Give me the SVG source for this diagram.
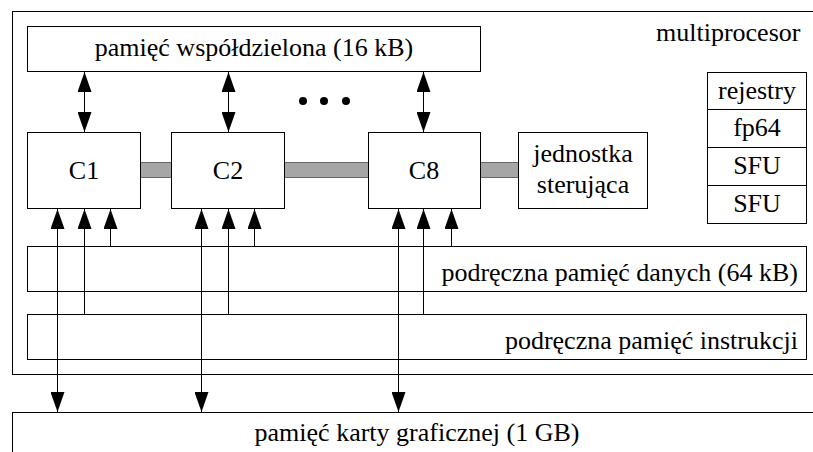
<svg xmlns="http://www.w3.org/2000/svg" width="813" height="452" viewBox="0 0 813 452">
<style>
.box{fill:#fff;stroke:#000;stroke-width:1}
.bar{fill:#a6a6a6;stroke:#666;stroke-width:1}
text{font-family:'Liberation Serif','Times New Roman',serif;font-size:26px;fill:#000}
.c{text-anchor:middle}
.r{text-anchor:end}
.ln{stroke:#000;stroke-width:1;fill:none}
</style>
<defs>
<marker id="ah" markerUnits="userSpaceOnUse" viewBox="0 0 20 14" markerWidth="20" markerHeight="14" refX="20" refY="7" orient="auto-start-reverse">
<path d="M0,0 L20,7 L0,14 Z" fill="#000"/>
</marker>
</defs>
<g id="multiprocesor">
<rect class="box" x="12.5" y="11.5" width="820" height="363"/>
<text x="656" y="41">multiprocesor</text>
</g>
<g id="graphics-memory">
<rect class="box" x="12.5" y="412.5" width="810" height="60"/>
<text class="c" x="417" y="441">pamięć karty graficznej (1 GB)</text>
</g>
<g id="shared-memory">
<rect class="box" x="27.5" y="26.5" width="453" height="45"/>
<text class="c" x="254" y="56">pamięć współdzielona (16 kB)</text>
</g>
<g id="bars">
<rect class="bar" x="140.5" y="162.5" width="31" height="15"/>
<rect class="bar" x="284.5" y="162.5" width="84" height="15"/>
<rect class="bar" x="480.5" y="162.5" width="38" height="15"/>
</g>
<g id="c1">
<rect class="box" x="27.5" y="132.5" width="113" height="76"/>
<text class="c" x="84" y="179">C1</text>
</g>
<g id="c2">
<rect class="box" x="171.5" y="132.5" width="113" height="76"/>
<text class="c" x="228" y="179">C2</text>
</g>
<g id="c8">
<rect class="box" x="368.5" y="132.5" width="112" height="76"/>
<text class="c" x="424" y="179">C8</text>
</g>
<g id="control-unit">
<rect class="box" x="518.5" y="132.5" width="129" height="76"/>
<text class="c" x="583" y="162">jednostka</text>
<text class="c" x="583" y="193">sterująca</text>
</g>
<g id="dots">
<circle cx="303" cy="101" r="4" fill="#000"/>
<circle cx="324" cy="101" r="4" fill="#000"/>
<circle cx="346" cy="101" r="4" fill="#000"/>
</g>
<g id="registers">
<rect class="box" x="707.5" y="72.5" width="99" height="37"/>
<rect class="box" x="707.5" y="109.5" width="99" height="38"/>
<rect class="box" x="707.5" y="147.5" width="99" height="38"/>
<rect class="box" x="707.5" y="185.5" width="99" height="38"/>
<text class="c" x="757" y="99">rejestry</text>
<text class="c" x="757" y="136">fp64</text>
<text class="c" x="757" y="174">SFU</text>
<text class="c" x="757" y="212">SFU</text>
</g>
<g id="data-cache">
<rect class="box" x="27.5" y="246.5" width="779" height="45"/>
<text class="r" x="798" y="281">podręczna pamięć danych (64 kB)</text>
</g>
<g id="instr-cache">
<rect class="box" x="27.5" y="314.5" width="779" height="45"/>
<text class="r" x="798" y="349">podręczna pamięć instrukcji</text>
</g>
<g id="connectors">
<line class="ln" x1="84.5" y1="72" x2="84.5" y2="132" marker-start="url(#ah)" marker-end="url(#ah)"/>
<line class="ln" x1="228.5" y1="72" x2="228.5" y2="132" marker-start="url(#ah)" marker-end="url(#ah)"/>
<line class="ln" x1="423.5" y1="72" x2="423.5" y2="132" marker-start="url(#ah)" marker-end="url(#ah)"/>
<line class="ln" x1="57.5" y1="209" x2="57.5" y2="412" marker-start="url(#ah)" marker-end="url(#ah)"/>
<line class="ln" x1="201.5" y1="209" x2="201.5" y2="412" marker-start="url(#ah)" marker-end="url(#ah)"/>
<line class="ln" x1="398.5" y1="209" x2="398.5" y2="412" marker-start="url(#ah)" marker-end="url(#ah)"/>
<line class="ln" x1="84.5" y1="314" x2="84.5" y2="209" marker-end="url(#ah)"/>
<line class="ln" x1="228.5" y1="314" x2="228.5" y2="209" marker-end="url(#ah)"/>
<line class="ln" x1="423.5" y1="314" x2="423.5" y2="209" marker-end="url(#ah)"/>
<line class="ln" x1="110.5" y1="246" x2="110.5" y2="209" marker-end="url(#ah)"/>
<line class="ln" x1="254.5" y1="246" x2="254.5" y2="209" marker-end="url(#ah)"/>
<line class="ln" x1="451.5" y1="246" x2="451.5" y2="209" marker-end="url(#ah)"/>
</g>
</svg>
